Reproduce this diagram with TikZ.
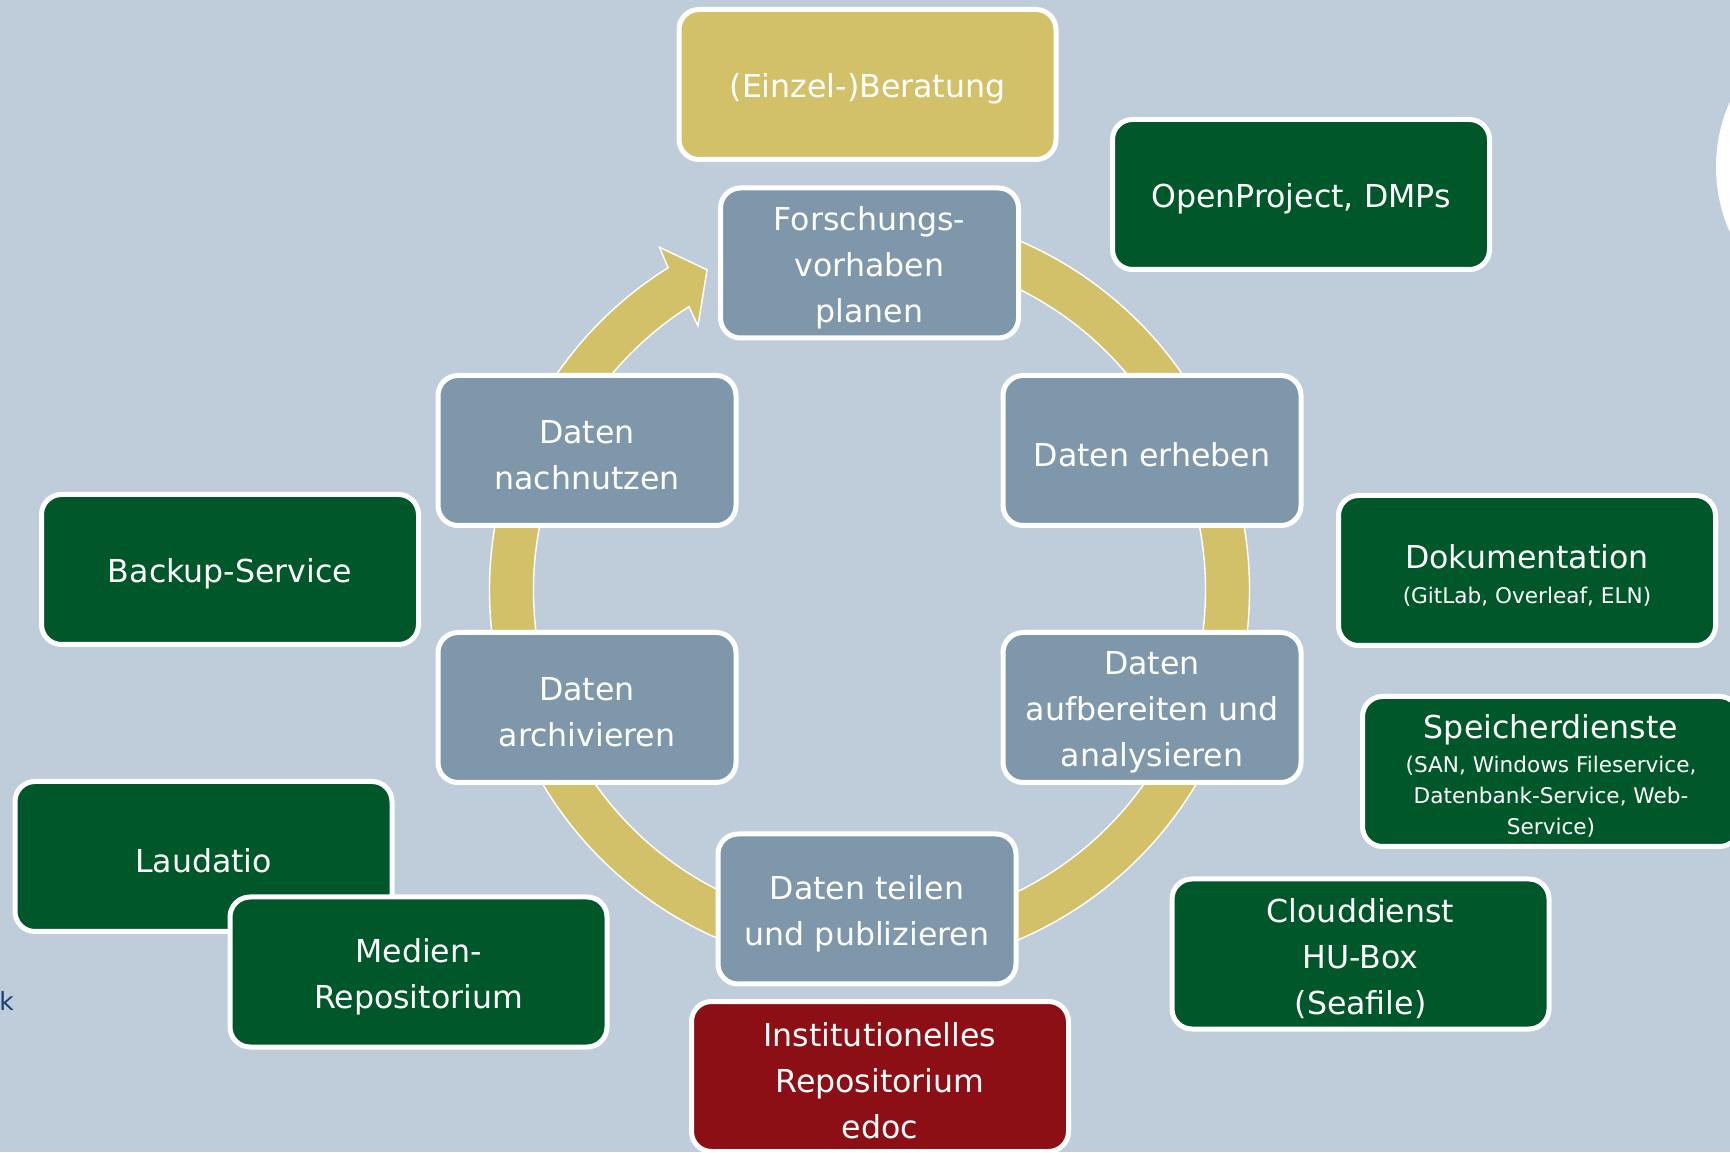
\documentclass[tikz,border=0pt]{standalone}
\usepackage{fontspec}
\setmainfont{DejaVu Sans}
\usetikzlibrary{calc}
\definecolor{bg}{HTML}{BFCDDA}
\definecolor{phase}{HTML}{7F97AA}
\definecolor{svc}{HTML}{00582A}
\definecolor{gold}{HTML}{D3C169}
\definecolor{edocred}{HTML}{8B0F15}
\definecolor{darkblue}{HTML}{1B3F73}
\newcommand{\subtxt}[1]{{\fontsize{10.8}{14}\selectfont #1}}
\newcommand{\tstrut}{\rule{0pt}{16.6pt}}
\begin{document}
\begin{tikzpicture}[x=0.5pt,y=0.5pt,
  box/.style={rectangle, rounded corners=10pt, draw=white, line width=2.5pt,
    text=white, align=center, inner sep=0pt, font=\fontsize{15.8}{23}\selectfont},
  phasebox/.style={box, fill=phase, minimum width=149pt, minimum height=75pt},
  svcbox/.style={box, fill=svc, minimum width=188.5pt, minimum height=75pt},
  advicebox/.style={box, fill=gold, minimum width=188.5pt, minimum height=75pt},
  repobox/.style={box, fill=edocred, minimum width=188.5pt, minimum height=75pt},
  cyclearrow/.style={fill=gold, draw=white, line width=0.7pt, line join=miter}]
\useasboundingbox (0,0) rectangle (1730,1152);
\clip (0,0) rectangle (1730,1152);
\fill[bg] (0,0) rectangle (1730,1152);
\fill[white] (1876,985) circle[radius=160];
\node[anchor=base west, text=darkblue, inner sep=0pt, font=\fontsize{12.5}{15}\selectfont] (frag) at (-1,141) {k};

% cycle ring with arrow head
\coordinate (C) at (869.5,562);
\filldraw[cyclearrow] ($(C)+(95:380)$) arc[start angle=95, end angle=-238, radius=380]
  -- ($(C)+(121.5:402)$) -- ($(C)+(116.9:359)$) -- ($(C)+(123:315)$)
  -- ($(C)+(-237.5:336)$) arc[start angle=-237.5, end angle=95, radius=336] -- cycle;

% phases
\node[phasebox] (plan) at (869.5,889) {\tstrut Forschungs-\\vorhaben\\planen};
\node[phasebox] (erheben) at (1152,701.5) {\tstrut Daten erheben};
\node[phasebox] (nachnutzen) at (587,701.5) {\tstrut Daten\\nachnutzen};
\node[phasebox] (archiv) at (587,444.5) {\tstrut Daten\\archivieren};
\node[phasebox] (aufbereiten) at (1152,444.5) {\tstrut Daten\\aufbereiten und\\analysieren};
\node[phasebox] (teilen) at (867,243) {\tstrut Daten teilen\\und publizieren};

% services
\node[advicebox] (beratung) at (867.5,1067.5) {\tstrut (Einzel-)Beratung};
\node[svcbox] (openproject) at (1301,957.5) {\tstrut OpenProject, DMPs};
\node[svcbox] (backup) at (230,582.5) {\tstrut Backup-Service};
\node[svcbox] (doku) at (1527,581.5) {\tstrut Dokumentation\\[-5.5pt]\subtxt{(GitLab, Overleaf, ELN)}};
\node[svcbox] (speicher) at (1551,380.5) {\tstrut Speicherdienste\\[-6pt]\subtxt{(SAN, Windows Fileservice,}\\[-7.5pt]\subtxt{Datenbank-Service, Web-}\\[-7.5pt]\subtxt{Service)}};
\node[svcbox] (laudatio) at (203.5,295.5) {\tstrut Laudatio};
\node[svcbox] (medien) at (418.5,180) {\tstrut Medien-\\Repositorium};
\node[svcbox] (cloud) at (1360.5,198) {\tstrut Clouddienst\\HU-Box\\(Seafile)};
\node[repobox] (edoc) at (880,75.5) {\tstrut Institutionelles\\Repositorium\\edoc};
\end{tikzpicture}
\end{document}
